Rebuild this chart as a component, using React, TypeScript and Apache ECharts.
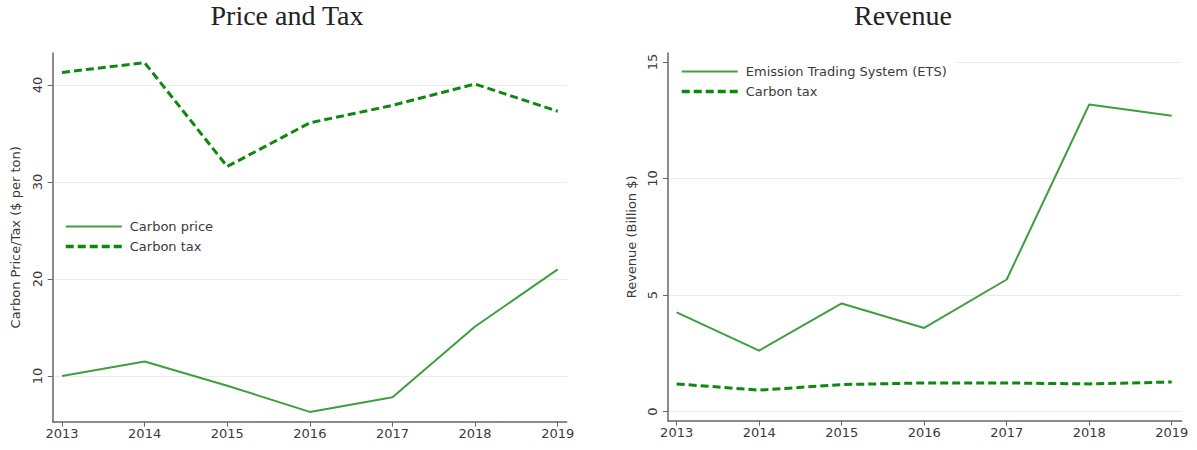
import React, { useEffect, useRef } from "react";
import * as echarts from "echarts";

const years = [2013, 2014, 2015, 2016, 2017, 2018, 2019];
const carbonPrice = [10.0, 11.5, 9.0, 6.3, 7.8, 15.1, 21.0];
const carbonTaxPrice = [41.3, 42.3, 31.6, 36.1, 37.9, 40.1, 37.3];
const etsRevenue = [4.26, 2.62, 4.64, 3.59, 5.67, 13.18, 12.7];
const carbonTaxRevenue = [1.19, 0.92, 1.16, 1.23, 1.23, 1.19, 1.27];
const leftTicks = [10, 20, 30, 40];
const rightTicks = [0, 5, 10, 15];

const SOLID = "#3f9e3f";
const DASH = "#0f880f";
const FONT = "DejaVu Sans";
const TXT = "#3a3a3a";

const pairs = (ys: number[]) => years.map((y, i) => [y, ys[i]]);

export default function App() {
  const ref = useRef<HTMLDivElement>(null);
  useEffect(() => {
    const chart = echarts.init(ref.current!, null, { renderer: "svg" });
    const xAxisBase = (gridIndex: number, min: number, max: number) => ({
      type: "value",
      gridIndex,
      min,
      max,
      axisLine: { show: true, onZero: false, lineStyle: { color: "#666", width: 1.5 } },
      axisTick: { show: true, length: 5, customValues: years, lineStyle: { color: "#666" } },
      axisLabel: {
        customValues: years,
        margin: 5,
        fontFamily: FONT,
        fontSize: 13,
        color: TXT,
        formatter: (v: number) => String(v),
      },
      splitLine: { show: false },
    });
    const yAxisBase = (gridIndex: number, min: number, max: number, ticks: number[], name: string, nameGap: number) => ({
      type: "value",
      gridIndex,
      min,
      max,
      name,
      nameLocation: "middle",
      nameGap,
      nameTextStyle: { fontFamily: FONT, fontSize: 13, color: TXT },
      axisLine: { show: true, onZero: false, lineStyle: { color: "#666", width: 1.5 } },
      axisTick: { show: true, length: 5, customValues: ticks, lineStyle: { color: "#666" } },
      axisLabel: {
        customValues: ticks,
        rotate: 90,
        margin: 9,
        fontFamily: FONT,
        fontSize: 13,
        color: TXT,
      },
      splitLine: { show: true, lineStyle: { color: "#ececec", width: 1 } },
    });
    const legendCommon = {
      orient: "vertical",
      itemWidth: 56,
      itemHeight: 14,
      itemGap: 7,
      itemStyle: { opacity: 0 },
      textStyle: { fontFamily: FONT, fontSize: 13, color: TXT, padding: [0, 0, 0, 3] },
    };
    chart.setOption({
      animation: false,
      backgroundColor: "#fff",
      title: [
        {
          text: "Price and Tax",
          left: 287,
          textAlign: "center",
          top: 1,
          padding: 0,
          textStyle: { fontFamily: "Liberation Serif", fontWeight: "normal", fontSize: 28, color: "#222" },
        },
        {
          text: "Revenue",
          left: 903,
          textAlign: "center",
          top: 1,
          padding: 0,
          textStyle: { fontFamily: "Liberation Serif", fontWeight: "normal", fontSize: 28, color: "#222" },
        },
      ],
      legend: [
        {
          ...legendCommon,
          left: 64,
          top: 220,
          padding: 0,
          data: [
            { name: "Carbon price", lineStyle: { width: 2 } },
            { name: "Carbon tax", lineStyle: { width: 3.5 } },
          ],
        },
        {
          ...legendCommon,
          left: 670,
          top: 58,
          padding: [7, 8, 5, 10],
          backgroundColor: "#fff",
          data: [
            { name: "Emission Trading System (ETS)", lineStyle: { width: 2 } },
            { name: "Carbon tax ", lineStyle: { width: 3.5 } },
          ],
          formatter: (n: string) => n.trim(),
        },
      ],
      grid: [
        { left: 52.7, top: 53, width: 514, height: 368.7, containLabel: false },
        { left: 668, top: 53, width: 513.7, height: 367.7, containLabel: false },
      ],
      xAxis: [xAxisBase(0, 2012.887, 2019.109), xAxisBase(1, 2012.895, 2019.121)],
      yAxis: [
        yAxisBase(0, 5.29, 43.3, leftTicks, "Carbon Price/Tax ($ per ton)", 31),
        yAxisBase(1, -0.39, 15.39, rightTicks, "Revenue (Billion $)", 30),
      ],
      series: [
        {
          name: "Carbon price",
          type: "line",
          xAxisIndex: 0,
          yAxisIndex: 0,
          data: pairs(carbonPrice),
          symbol: "none",
          lineStyle: { color: SOLID, width: 2 },
          itemStyle: { color: SOLID },
        },
        {
          name: "Carbon tax",
          type: "line",
          xAxisIndex: 0,
          yAxisIndex: 0,
          data: pairs(carbonTaxPrice),
          symbol: "none",
          lineStyle: { color: DASH, width: 3, type: [8, 4] },
          itemStyle: { color: DASH },
        },
        {
          name: "Emission Trading System (ETS)",
          type: "line",
          xAxisIndex: 1,
          yAxisIndex: 1,
          data: pairs(etsRevenue),
          symbol: "none",
          lineStyle: { color: SOLID, width: 2 },
          itemStyle: { color: SOLID },
        },
        {
          name: "Carbon tax ",
          type: "line",
          xAxisIndex: 1,
          yAxisIndex: 1,
          data: pairs(carbonTaxRevenue),
          symbol: "none",
          lineStyle: { color: DASH, width: 3, type: [8, 4] },
          itemStyle: { color: DASH },
        },
      ],
    });
    return () => chart.dispose();
  }, []);
  return (
    <div
      ref={ref}
      style={{ position: "fixed", left: 0, top: 0, width: 1197, height: 450, background: "#fff" }}
    />
  );
}
